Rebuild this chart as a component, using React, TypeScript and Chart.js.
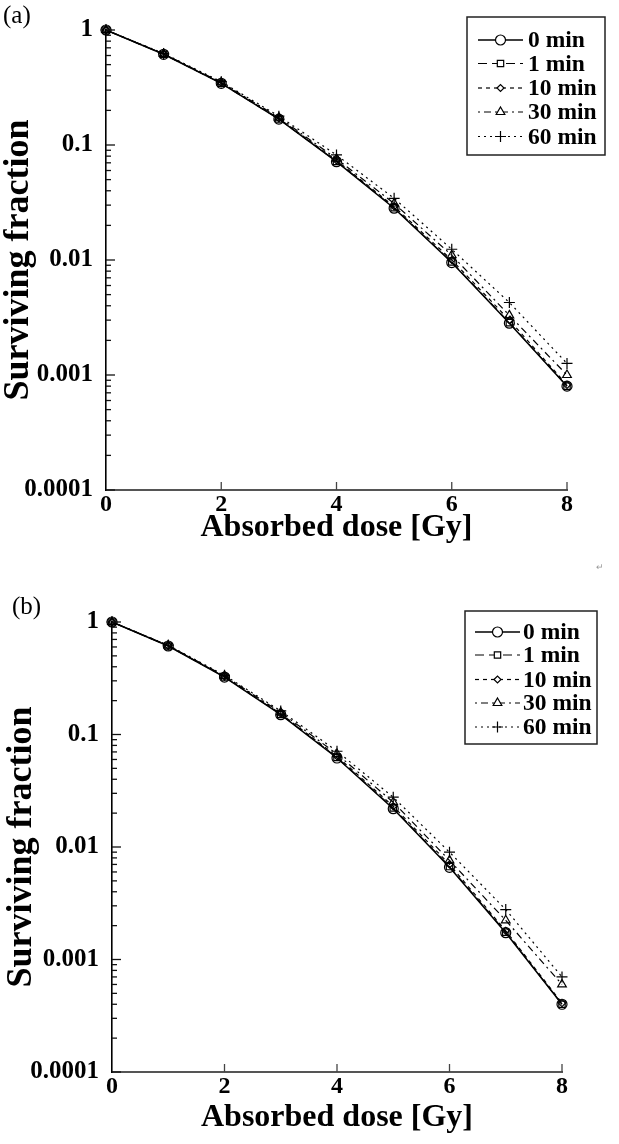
import React, { useEffect, useRef } from "react";
import { Chart, registerables } from "chart.js";
import { drawPoint } from "chart.js/helpers";

Chart.register(...registerables);

// ---------------- data ----------------
const DOSES = [0, 1, 2, 3, 4, 5, 6, 7, 8];
const SERIES_LABELS = ["0 min", "1 min", "10 min", "30 min", "60 min"];

// panel (a)
const A_0MIN = [1, 0.615, 0.344, 0.168, 0.0716, 0.0282, 0.0095, 0.00282, 0.0008];
const A_1MIN = [1, 0.615, 0.344, 0.168, 0.072, 0.0285, 0.0096, 0.00285, 0.0008];
const A_10MIN = [1, 0.618, 0.346, 0.17, 0.0735, 0.0292, 0.01, 0.003, 0.00082];
const A_30MIN = [1, 0.62, 0.35, 0.173, 0.076, 0.031, 0.011, 0.0033, 0.001];
const A_60MIN = [1, 0.625, 0.355, 0.178, 0.0819, 0.0344, 0.0124, 0.00427, 0.00126];

// panel (b)
const B_0MIN = [1, 0.612, 0.324, 0.15, 0.0618, 0.0219, 0.0066, 0.00173, 0.0004];
const B_1MIN = [1, 0.612, 0.325, 0.151, 0.0625, 0.0222, 0.0067, 0.00175, 0.0004];
const B_10MIN = [1, 0.614, 0.328, 0.153, 0.064, 0.023, 0.007, 0.0018, 0.00041];
const B_30MIN = [1, 0.618, 0.332, 0.157, 0.067, 0.025, 0.0076, 0.00223, 0.0006];
const B_60MIN = [1, 0.622, 0.336, 0.162, 0.071, 0.0277, 0.009, 0.00278, 0.0007];

const Y_TICKS = [0.0001, 0.001, 0.01, 0.1, 1];
const Y_TICK_LABELS = ["0.0001", "0.001", "0.01", "0.1", "1"];
const X_TICKS = [0, 2, 4, 6, 8];
const X_TICK_LABELS = ["0", "2", "4", "6", "8"];

const X_TITLE = "Absorbed dose [Gy]";
const Y_TITLE = "Surviving fraction";

// ---------------- styles ----------------
const SERIF = "'Liberation Serif', 'Times New Roman', serif";
const STYLES = [
  { dash: [] as number[], pointStyle: "circle", radius: 5, width: 1.5 },
  { dash: [9, 5], pointStyle: "rect", radius: 4.5, width: 1.2 },
  { dash: [4, 4], pointStyle: "rectRot", radius: 3.5, width: 1.2 },
  { dash: [2, 4, 7, 4], pointStyle: "triangle", radius: 5, width: 1.2 },
  { dash: [2, 4], pointStyle: "cross", radius: 5.5, width: 1.2 },
];

const W = 619;
const H = 572;

type Geo = {
  left: number;
  right: number;
  top: number;
  bottom: number;
  yTitlePad: number;
  xTitlePad: number;
  legendBox: [number, number, number, number];
  legendRows: number[];
  legendLine: [number, number];
  legendText: number;
};

const ticksPlugin = {
  id: "innerTicks",
  afterDatasetsDraw(chart: any) {
    const { ctx, chartArea, scales } = chart;
    const y = scales.y;
    const x = scales.x;
    ctx.save();
    ctx.strokeStyle = "#111";
    ctx.lineWidth = 1.3;
    ctx.setLineDash([]);
    for (const dec of Y_TICKS) {
      const py = y.getPixelForValue(dec);
      ctx.beginPath();
      ctx.moveTo(chartArea.left, py);
      ctx.lineTo(chartArea.left + 9, py);
      ctx.stroke();
      if (dec < 1) {
        for (let m = 2; m <= 9; m++) {
          const v = dec * m;
          const pm = y.getPixelForValue(v);
          ctx.beginPath();
          ctx.moveTo(chartArea.left, pm);
          ctx.lineTo(chartArea.left + 5, pm);
          ctx.stroke();
        }
      }
    }
    ctx.strokeStyle = "#444";
    for (const t of X_TICKS) {
      if (t === 0) continue;
      const px = x.getPixelForValue(t);
      ctx.beginPath();
      ctx.moveTo(px, chartArea.bottom);
      ctx.lineTo(px, chartArea.bottom - 8);
      ctx.stroke();
    }
    ctx.restore();
  },
};

const legendPlugin = {
  id: "boxLegend",
  afterDraw(chart: any, _args: any, opts: any) {
    const g: Geo = opts.geo;
    if (!g) return;
    const { ctx } = chart;
    ctx.save();
    const [bx1, by1, bx2, by2] = g.legendBox;
    ctx.strokeStyle = "#222";
    ctx.lineWidth = 1.5;
    ctx.setLineDash([]);
    ctx.strokeRect(bx1, by1, bx2 - bx1, by2 - by1);
    ctx.font = `bold 23.5px ${SERIF}`;
    ctx.textBaseline = "middle";
    ctx.textAlign = "left";
    SERIES_LABELS.forEach((lab, i) => {
      const s = STYLES[i];
      const yy = g.legendRows[i];
      const [lx1, lx2] = g.legendLine;
      ctx.strokeStyle = "#000";
      ctx.lineWidth = s.width;
      ctx.setLineDash(s.dash);
      ctx.beginPath();
      ctx.moveTo(lx1, yy);
      ctx.lineTo(lx2, yy);
      ctx.stroke();
      ctx.setLineDash([]);
      ctx.fillStyle = "#fff";
      ctx.strokeStyle = "#000";
      ctx.lineWidth = 1.2;
      drawPoint(ctx, { pointStyle: s.pointStyle, radius: s.radius, rotation: 0, borderWidth: 1.2 } as any, (lx1 + lx2) / 2, yy);
      ctx.fillStyle = "#000";
      ctx.fillText(lab, g.legendText, yy + 1);
    });
    ctx.restore();
  },
};

function Panel({ series, geo, top, tag, tagPos }: { series: number[][]; geo: Geo; top: number; tag: string; tagPos: [number, number] }) {
  const ref = useRef<HTMLCanvasElement | null>(null);
  useEffect(() => {
    if (!ref.current) return;
    const datasets = series.map((vals, i) => {
      const s = STYLES[i];
      return {
        label: SERIES_LABELS[i],
        data: DOSES.map((d, k) => ({ x: d, y: vals[k] })),
        borderColor: "#000",
        borderWidth: s.width,
        borderDash: s.dash,
        pointStyle: s.pointStyle,
        pointRadius: s.radius,
        pointBorderWidth: 1.2,
        pointBorderColor: "#000",
        pointBackgroundColor: "rgba(0,0,0,0)",
        fill: false,
        tension: 0,
        clip: false as any,
      };
    });
    const chart = new Chart(ref.current, {
      type: "line",
      data: { datasets: datasets as any },
      plugins: [ticksPlugin, legendPlugin],
      options: {
        animation: false,
        responsive: false,
        devicePixelRatio: 1,
        layout: { padding: { left: 0, top: geo.top, right: W - geo.right, bottom: 0 } },
        plugins: {
          legend: { display: false },
          tooltip: { enabled: false },
          boxLegend: { geo } as any,
        } as any,
        scales: {
          x: {
            type: "linear",
            min: 0,
            max: 8,
            grid: { display: false, drawTicks: false },
            border: { display: true, color: "#555", width: 2 },
            afterBuildTicks: (s: any) => {
              s.ticks = X_TICKS.map((v) => ({ value: v }));
            },
            afterFit: (s: any) => {
              s.height = H - geo.bottom;
            },
            ticks: {
              autoSkip: false,
              maxRotation: 0,
              padding: 3,
              color: "#000",
              font: { family: SERIF, weight: "bold", size: 24, lineHeight: 1.0 },
              callback: (v: any) => X_TICK_LABELS[X_TICKS.indexOf(Number(v))] ?? "",
            },
            title: {
              display: true,
              text: X_TITLE,
              color: "#000",
              font: { family: SERIF, weight: "bold", size: 32, lineHeight: 1.0 },
              padding: { top: 0, bottom: geo.xTitlePad },
            },
          },
          y: {
            type: "logarithmic",
            min: 0.0001,
            max: 1,
            grid: { display: false, drawTicks: false },
            border: { display: true, color: "#000", width: 1.6 },
            afterBuildTicks: (s: any) => {
              s.ticks = Y_TICKS.map((v) => ({ value: v }));
            },
            afterFit: (s: any) => {
              s.width = geo.left;
            },
            ticks: {
              autoSkip: false,
              padding: 13,
              color: "#000",
              font: { family: SERIF, weight: "bold", size: 25, lineHeight: 1.0 },
              callback: (v: any) => {
                const i = Y_TICKS.findIndex((t) => Math.abs(t - Number(v)) / t < 1e-6);
                return i >= 0 ? Y_TICK_LABELS[i] : "";
              },
            },
            title: {
              display: true,
              text: Y_TITLE,
              color: "#000",
              font: { family: SERIF, weight: "bold", size: 36, lineHeight: 1.0 },
              padding: { top: geo.yTitlePad, bottom: 0 },
            },
          },
        },
      } as any,
    });
    return () => chart.destroy();
  }, []);
  return (
    <div style={{ position: "absolute", left: 0, top, width: W, height: H }}>
      <canvas ref={ref} width={W} height={H} style={{ width: W, height: H, display: "block" }} />
      <div
        style={{
          position: "absolute",
          left: tagPos[0],
          top: tagPos[1],
          fontFamily: SERIF,
          fontSize: 25,
          lineHeight: "25px",
          color: "#000",
        }}
      >
        {tag}
      </div>
    </div>
  );
}

const GEO_A: Geo = {
  left: 106,
  right: 567,
  top: 30,
  bottom: 490,
  yTitlePad: 1,
  xTitlePad: 28,
  legendBox: [467, 17, 605, 155],
  legendRows: [40, 63.5, 88, 112, 136.5],
  legendLine: [478, 523],
  legendText: 528,
};

const GEO_B: Geo = {
  left: 112,
  right: 562,
  top: 50,
  bottom: 500,
  yTitlePad: 4,
  xTitlePad: 10,
  legendBox: [465, 39, 597, 172],
  legendRows: [60, 83, 107.5, 131, 155],
  legendLine: [475, 520],
  legendText: 523,
};

export default function App() {
  return (
    <div style={{ position: "absolute", left: 0, top: 0, width: W, height: 1144, background: "#fff" }}>
      <Panel series={[A_0MIN, A_1MIN, A_10MIN, A_30MIN, A_60MIN]} geo={GEO_A} top={0} tag="(a)" tagPos={[3, 2]} />
      <Panel series={[B_0MIN, B_1MIN, B_10MIN, B_30MIN, B_60MIN]} geo={GEO_B} top={572} tag="(b)" tagPos={[12, 21]} />
      <div style={{ position: "absolute", left: 596, top: 562, fontFamily: SERIF, fontSize: 9, color: "#999" }}>↵</div>
    </div>
  );
}
